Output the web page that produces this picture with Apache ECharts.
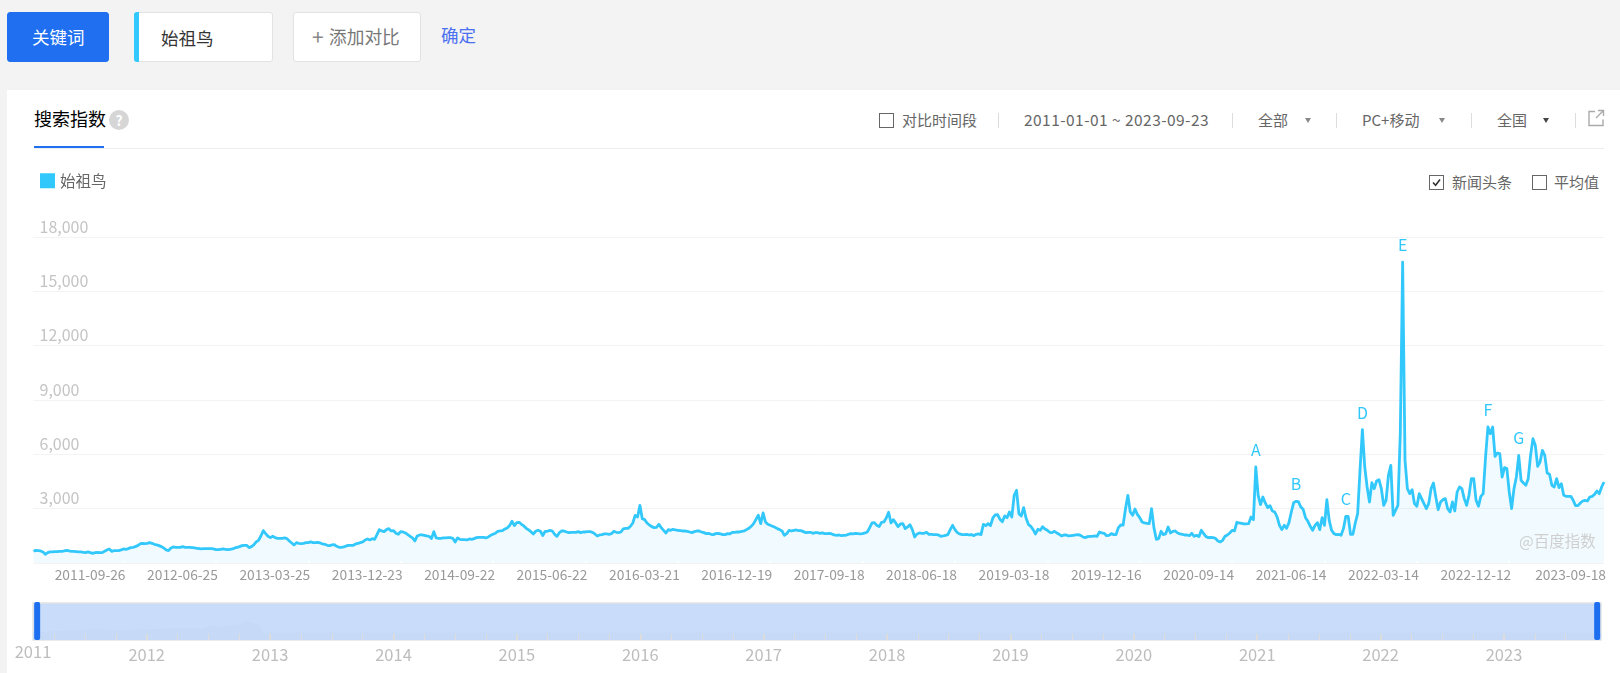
<!DOCTYPE html>
<html><head><meta charset="utf-8">
<script src="https://cdn.jsdelivr.net/npm/echarts@6/dist/echarts.min.js"></script>
<style>
html,body{margin:0;padding:0;width:1620px;height:673px;overflow:hidden;background:#f3f3f3;font-family:"Noto Sans CJK SC","Noto Sans",sans-serif;}
.a{position:absolute;white-space:nowrap;line-height:1;}
.box{position:absolute;box-sizing:border-box;background:#fff;border:1px solid #e2e2e2;border-radius:3px;}
.cb{position:absolute;box-sizing:border-box;width:15px;height:15px;border:1.5px solid #666;background:#fff;}
.sep{position:absolute;width:1px;height:15px;top:113px;background:#dcdcdc;}
.tri{position:absolute;width:0;height:0;border-left:3px solid transparent;border-right:3px solid transparent;border-top:5px solid #888;top:118px;}
.c{color:#666;font-size:15px;}
#chart{position:absolute;left:0;top:0;width:1620px;height:673px;}
</style></head>
<body>
<div style="position:absolute;left:7px;top:90px;right:0;bottom:0;background:#fff"></div>
<div class="box" style="left:7px;top:12px;width:102px;height:50px;background:#1f6ff0;border-color:#1f6ff0;"></div>
<div class="a" style="left:32px;top:28px;color:#fff;font-size:17.5px;">关键词</div>
<div class="box" style="left:134px;top:12px;width:139px;height:50px;"></div>
<div style="position:absolute;left:134px;top:12px;width:5px;height:50px;background:#33c9ff;border-radius:3px 0 0 3px"></div>
<div class="a" style="left:161px;top:29px;color:#333;font-size:17.5px;">始祖鸟</div>
<div class="box" style="left:293px;top:12px;width:128px;height:50px;"></div>
<div class="a" style="left:312px;top:26px;color:#888;font-size:21px;">+</div>
<div class="a" style="left:329px;top:28px;color:#777;font-size:17.7px;">添加对比</div>
<div class="a" style="left:441px;top:26px;color:#4a6ff0;font-size:17.5px;">确定</div>

<div class="a" style="left:34px;top:109px;color:#000;font-size:18px;">搜索指数</div>
<div class="a" style="left:109px;top:110px;width:20px;height:20px;border-radius:10px;background:#d6d6d6;color:#fff;font-size:14px;font-weight:bold;text-align:center;line-height:20px;">?</div>
<div style="position:absolute;left:34px;top:148px;width:1570px;height:1px;background:#eee"></div>
<div style="position:absolute;left:34px;top:146px;width:70px;height:2px;background:#1f6ff0"></div>

<div class="cb" style="left:879px;top:113px;"></div>
<div class="a c" style="left:902px;top:112px;">对比时间段</div>
<div class="sep" style="left:998px;"></div>
<div class="a c" style="left:1024px;top:112px;font-size:15.5px;letter-spacing:.45px;">2011-01-01 ~ 2023-09-23</div>
<div class="sep" style="left:1232px;"></div>
<div class="a c" style="left:1258px;top:112px;">全部</div>
<div class="tri" style="left:1305px;"></div>
<div class="sep" style="left:1336px;"></div>
<div class="a c" style="left:1362px;top:112px;">PC+移动</div>
<div class="tri" style="left:1439px;"></div>
<div class="sep" style="left:1471px;"></div>
<div class="a c" style="left:1497px;top:112px;">全国</div>
<div class="tri" style="left:1543px;border-top-color:#444"></div>
<div class="sep" style="left:1575px;"></div>
<svg style="position:absolute;left:1587px;top:109px" width="18" height="18" viewBox="0 0 18 18" fill="none" stroke="#aaa" stroke-width="1.4"><path d="M8 2.5H2v14h14v-6"/><path d="M11 1.5h5.5V7M16.5 1.5L9 9"/></svg>

<div class="cb" style="left:1429px;top:175px;"></div>
<svg style="position:absolute;left:1429px;top:175px" width="15" height="15" viewBox="0 0 15 15" fill="none" stroke="#333" stroke-width="1.6"><path d="M4 7.5l2.6 2.8L11 4.6"/></svg>
<div class="a c" style="left:1452px;top:174px;">新闻头条</div>
<div class="cb" style="left:1532px;top:175px;"></div>
<div class="a c" style="left:1554px;top:174px;">平均值</div>

<div id="chart"></div>
<script>
const seriesName = '始祖鸟';
const startMonday = Date.UTC(2011, 0, 3);
const tickLabels = ['2011-09-26','2012-06-25','2013-03-25','2013-12-23','2014-09-22','2015-06-22','2016-03-21','2016-12-19','2017-09-18','2018-06-18','2019-03-18','2019-12-16','2020-09-14','2021-06-14','2022-03-14','2022-12-12','2023-09-18'];
const weekly2011 = [647,702,684,665,610,481,573,610,610,628,628,647,647,665,702,665,647,647,628,610,610,592,573,610,573,536,573,592,573,573,647,720,776,647,684,684,684,720,776,757,794,849,868,904,960,1052,1088,1070,1088,1125,1088,1033,996,960,904,831,720,684,831,886,868,868,868,904,868,868,868,849,831,812,794,776,794,794,794,794,776,739,739,757,776,757,739,757,776,831,868,904,960,978,978,849,904,996,1162,1254,1493,1788,1622,1475,1401,1475,1401,1364,1364,1364,1382,1346];
const weekly2013 = [1217,1107,996,1125,1088,1070,1088,1125,1125,1162,1125,1125,1144,1107,1052,1033,978,960,996,1015,923,868,868,886,941,978,978,978,1052,1088,1125,1162,1272,1328,1272,1346,1309,1567,1843,1769,1732,1843,1898,1769,1788,1640,1585,1732,1714,1659,1567,1475,1383,1217,1493,1548,1548,1530,1493,1475,1346,1732,1383,1364,1364,1383,1383,1401,1401,1364,1162,1383,1309,1291,1291,1272,1328,1309,1346,1401,1420,1420,1420,1383,1438,1530,1585,1640,1751,1769,1788,1880,1935,2064,2303,2064,2229,2248,2137,2045,1916,1824,1732,1604,1751,1806,1751,1512,1751,1751];
const weekly2015 = [1805,1768,1584,1474,1676,1768,1768,1713,1676,1695,1695,1695,1731,1676,1713,1713,1731,1731,1695,1603,1492,1547,1566,1603,1603,1584,1621,1750,1695,1676,1713,1879,1915,1915,2026,2210,2633,2541,3185,2449,2394,2210,2099,2007,1952,1971,2136,1952,1805,1658,1842,1805,1860,1823,1805,1787,1768,1768,1750,1713,1676,1731,1768,1768,1713,1676,1621,1639,1584,1566,1621,1639,1603,1566,1566,1621,1603,1695,1695,1713,1713,1750,1768,1842,1915,2026,2173,2412,2633,2173,2762,2265,2136,2081,2026,1971,1897,1842,1768,1529,1621,1805,1768,1805,1823,1787,1787,1731,1676,1695];
const weekly2017 = [1695,1639,1676,1676,1639,1658,1621,1621,1639,1603,1547,1529,1547,1511,1529,1529,1584,1621,1603,1639,1621,1603,1621,1658,1713,1952,2210,2228,2081,2007,2247,2265,2486,2799,2210,2394,2210,2007,2155,2173,1897,1989,2118,1842,1437,1603,1658,1639,1639,1695,1584,1584,1566,1566,1547,1474,1492,1529,1566,1842,2081,1842,1676,1603,1566,1566,1584,1547,1566,1511,1584,1603,1566,2136,2063,2173,2063,2486,2651,2670,2412,2283,2596,2504,2817,2541,3737,4013,2725,2596,3056,2486,2136,2026,1842,1603,1860,1805,2007,1879,1805,1695,1676,1750,1658,1584,1492,1547,1547,1492];
const weekly2019 = [1511,1529,1547,1566,1529,1437,1400,1455,1474,1474,1492,1474,1713,1658,1639,1511,1529,1621,1566,1566,1952,2099,2099,3001,3737,2817,2633,2983,2688,2504,2265,2210,2192,2173,3001,1952,1308,1345,1750,1566,1621,1989,1658,1750,1768,1658,1603,1584,1547,1547,1511,1639,1474,1529,1455,1805,1621,1455,1400,1419,1400,1363,1216,1161,1253,1474,1547,1658,1805,1768,2247,2210,2192,2155,2155,2173,2541,2394,5301,3737,3222,3645,3314,3056,3167,2872,2817,2541,2081,1842,2081,1915,2228,2817,3332,3406,3387,3093,2964,2504,2302,2026,1805,2081,2228,1842,2504,2081,3498,2357,1805,1621,1566];
const weekly2021 = [1584,1529,1897,2578,2578,1584,1584,2210,2725,5117,7362,5301,4197,3369,4436,4105,4528,4602,4105,3185,3461,4841,5393,2633,2909,3185,7141,16617,5669,4105,3829,4050,3277,3130,3829,3553,3277,3001,3277,4105,4418,3645,2946,3369,3498,3553,3001,2817,3369,2872,3921,4197,4105,3553,3185,3737,4657,4657,3461,3130,3682,3829,5853,7509,7141,7509,5890,6074,6037,4749,5264,5209,3921,3001,4105,4749,5945,4565,4418,4289,4657,5945,6865,6497,5338,5577,6221,5945,4970,4897,4289,4197,4657,4160,4381,3737,3682,3682,3682,3461,3167,3167,3314,3424,3461,3424,3645,3682,3792,3976,3829,4197,4473];
const newsLetters = ['A','B','C','D','E','F','G'];
const newsPeaks = [5301,3406,2578,7362,16617,7509,5945];
const sliderShadowYears = [2011.0786,2011.162,2011.379,2011.541,2011.811,2011.946,2012.135,2012.243,2012.351,2012.459,2012.527,2012.594,2012.676,2012.73,2012.797,2012.851,2012.919,2012.932,2023.786];
const sliderShadowHeights = [8,8,9.7,10.7,10,10.7,11.3,11.7,12,11.3,15,13.3,14.7,14.7,19,17.3,14.7,7.3,7.3];
const sliderYears = [2012,2013,2014,2015,2016,2017,2018,2019,2020,2021,2022,2023];
const sliderFirstYear = 2011;

const values = [].concat(weekly2011, weekly2013, weekly2015, weekly2017, weekly2019, weekly2021);
const dates = values.map((_, i) => new Date(startMonday + i * 7 * 864e5).toISOString().slice(0, 10));
const sliderMin = 2011.0786, sliderMax = 2023.786;
const quarterTicks = [];
sliderYears.concat([sliderFirstYear]).sort().forEach(y => [0, .25, .5, .75].forEach(q => { if (y + q > sliderMin && y + q < sliderMax) quarterTicks.push(y + q); }));
const FONT = '"Noto Sans CJK SC","Noto Sans",sans-serif';
const LINE = '#33c8fb';
const chart = echarts.init(document.getElementById('chart'), null, {renderer: 'canvas', width: 1620, height: 673});
chart.setOption({
  animation: false,
  backgroundColor: 'transparent',
  textStyle: {fontFamily: FONT},
  legend: {left: 40, top: 173, padding: 0, data: [{name: seriesName, icon: 'rect'}], itemWidth: 15, itemHeight: 15, itemGap: 7, selectedMode: false, textStyle: {color: '#666', fontSize: 15.5, padding: [0, 0, 3, 0], fontFamily: FONT}},
  graphic: [{type: 'text', left: 1519, top: 533, z: 10, silent: true, style: {text: '@百度指数', fill: '#cfcfcf', font: '15.5px ' + FONT}}],
  grid: [
    {left: 33.5, right: 16, top: 237, height: 326, containLabel: false},
    {left: 33, right: 19, top: 603, height: 37, show: true, backgroundColor: '#c9ddfa', borderColor: '#e4e4e4', borderWidth: 1.5, containLabel: false}
  ],
  xAxis: [
    {type: 'category', gridIndex: 0, data: dates, boundaryGap: false, z: 3,
     axisLine: {show: false},
     axisTick: {show: true, inside: true, length: 2, lineStyle: {color: '#fff', width: 1.5}, interval: (i, v) => tickLabels.includes(v)},
     axisLabel: {color: '#999', fontSize: 13.8, align: 'right', margin: 5, padding: [0, -2, 0, 0], interval: (i, v) => tickLabels.includes(v), fontFamily: FONT, hideOverlap: false},
     splitLine: {show: false}},
    {type: 'value', gridIndex: 1, min: sliderMin, max: sliderMax, position: 'bottom', z: 6,
     axisLine: {show: false}, splitLine: {show: false},
     axisTick: {show: true, inside: true, length: 6, customValues: quarterTicks, lineStyle: {color: '#dcdcdc', width: 1}},
     axisLabel: {show: true, customValues: sliderYears, color: '#bdbdbd', fontSize: 16.5, margin: 6, formatter: v => String(Math.floor(v)), fontFamily: FONT}},
    {type: 'value', gridIndex: 1, min: sliderMin, max: sliderMax, position: 'bottom', z: 6,
     axisLine: {show: false}, splitLine: {show: false},
     axisTick: {show: true, inside: true, length: 6, customValues: sliderYears, lineStyle: {color: '#dcdcdc', width: 2}},
     axisLabel: {show: true, customValues: [sliderMin], color: '#bdbdbd', fontSize: 16.5, margin: 3, formatter: () => String(sliderFirstYear), fontFamily: FONT}}
  ],
  yAxis: [
    {type: 'value', gridIndex: 0, min: 0, max: 18000, interval: 3000,
     axisLine: {show: false}, axisTick: {show: false},
     splitLine: {lineStyle: {color: '#f3f3f3', width: 1}},
     axisLabel: {inside: true, showMinLabel: false, color: '#c4c4c4', fontSize: 16, margin: 6, verticalAlign: 'bottom', lineHeight: 17, padding: [0, 0, 2, 0], fontFamily: FONT,
       formatter: v => v === 0 ? '' : v.toLocaleString('en-US')}},
    {type: 'value', gridIndex: 1, min: 0, max: 37, show: false}
  ],
  dataZoom: [{type: 'slider', z: 10, xAxisIndex: 0, filterMode: 'none', start: 0, end: 100, left: 36, width: 1562, top: 602, height: 38,
    backgroundColor: 'transparent', borderColor: 'transparent', fillerColor: 'rgba(0,0,0,0)', showDetail: false, showDataShadow: false, brushSelect: false, moveHandleSize: 0,
    handleIcon: 'path://M2,0 h2 a2,2 0 0 1 2,2 v34 a2,2 0 0 1 -2,2 h-2 a2,2 0 0 1 -2,-2 v-34 a2,2 0 0 1 2,-2 z', handleSize: '100%',
    handleStyle: {color: '#1e6ff0', borderWidth: 0}, emphasis: {handleStyle: {color: '#1e6ff0', borderWidth: 0}}}],
  series: [
    {name: seriesName, type: 'line', xAxisIndex: 0, yAxisIndex: 0, data: values, showSymbol: false, symbol: 'none', smooth: false, sampling: false,
     color: LINE, itemStyle: {color: LINE},
     lineStyle: {color: LINE, width: 2.8, join: 'round'}, areaStyle: {color: '#33c8fb', opacity: 0.07},
     markPoint: {symbol: 'circle', symbolSize: 0, silent: true, animation: false,
       label: {show: true, position: 'top', distance: 9, color: LINE, fontSize: 16, fontFamily: FONT},
       data: newsLetters.map((l, k) => { const i = values.indexOf(newsPeaks[k]); return {name: l, coord: [dates[i], values[i]], label: {formatter: l}}; })}},
    {type: 'line', xAxisIndex: 1, yAxisIndex: 1, data: sliderShadowYears.map((y, i) => [y, sliderShadowHeights[i]]), showSymbol: false, symbol: 'none', silent: true,
     lineStyle: {width: 0}, areaStyle: {color: '#c6daf8', opacity: 1}}
  ]
});
</script>
</body></html>
